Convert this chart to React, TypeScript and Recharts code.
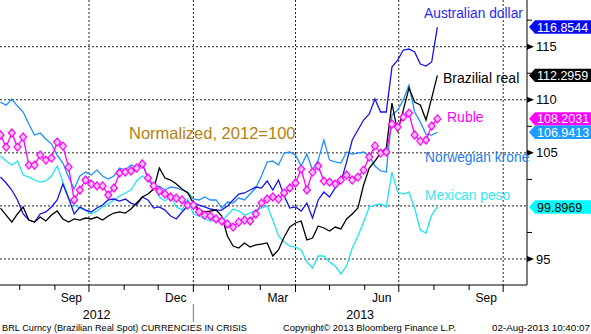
import { CartesianGrid, Line, LineChart, XAxis, YAxis } from "recharts";

// x values are days counted from 1 Jul 2012, one sample every 5 days
const START_DAY = 14;
const STEP_DAYS = 5;

const mxnValues = [
  104.7, 104.23, 103.85, 104.23, 102.91, 102.72, 102.44, 102.25, 102.35, 102.82,
  103.76, 102.25, 100.74, 100.08, 99.8, 99.61, 99.24, 99.52, 99.9, 100.18,
  100.56, 100.93, 101.22, 101.5, 102.35, 102.82, 102.44, 101.87, 100.84, 100.46,
  100.93, 99.9, 99.61, 100.65, 99.24, 99.05, 98.77, 98.58, 98.67, 98.48,
  99.14, 99.71, 99.52, 99.14, 99.33, 99.61, 99.8, 99.99, 98.67, 97.17,
  96.6, 96.22, 96.13, 95.85, 94.72, 94.15, 95.28, 95.28, 94.72, 94.34,
  93.59, 94.34, 96.03, 97.17, 98.48, 99.9, 100.08, 100.18, 99.9, 103.19,
  101.31, 101.12, 101.31, 99.8, 97.73, 97.45, 99.14, 99.9,
];

const nokValues = [
  109.78, 109.5, 110.07, 109.41, 108.84, 107.71, 106.68, 106.87, 106.3, 105.83,
  104.79, 104.04, 102.72, 101.59, 102.82, 103.19, 102.91, 103.38, 102.82, 102.53,
  102.82, 103.57, 103.38, 103.85, 103.66, 104.04, 102.63, 101.78, 101.87, 101.5,
  101.78, 101.69, 101.5, 101.31, 100.65, 100.56, 100.84, 100.56, 100.56, 99.8,
  100.37, 100.27, 100.74, 100.56, 101.12, 101.69, 102.82, 104.14, 104.23, 103.85,
  104.98, 105.08, 104.79, 103.75, 104.89, 103.38, 104.32, 106.21, 104.32, 104.14,
  104.04, 105.08, 104.89, 104.98, 105.08, 104.7, 103.76, 103.29, 103.19, 108.56,
  109.03, 109.98, 111.39, 108.85, 107.9, 106.77, 106.68, 106.94,
];

const audValues = [
  102.72, 102.16, 101.5, 100.56, 99.24, 98.67, 98.48, 99.24, 99.43, 99.9,
  100.56, 102.06, 100.74, 99.24, 99.9, 99.61, 99.43, 99.8, 100.08, 100.56,
  100.65, 100.46, 100.65, 100.27, 100.08, 100.84, 100.56, 99.8, 99.9, 99.61,
  99.05, 98.77, 99.43, 99.99, 100.27, 100.08, 99.9, 99.71, 99.61, 99.61,
  99.99, 100.56, 101.12, 101.22, 101.5, 101.78, 101.68, 102.35, 101.5, 102.44,
  100.93, 99.8, 99.9, 99.52, 100.27, 98.86, 100.56, 101.31, 100.84, 101.69,
  102.25, 104.13, 106.21, 107.15, 108.09, 108.66, 110.07, 108.85, 108.85, 113.08,
  113.74, 114.69, 114.78, 114.5, 113.37, 113.18, 113.56, 116.85,
];

const brlValues = [
  99.8, 99.14, 98.48, 99.24, 99.9, 98.67, 98.48, 98.95, 98.58, 99.14,
  99.52, 98.77, 98.48, 98.77, 98.67, 98.86, 98.77, 98.95, 98.67, 99.05,
  99.33, 99.43, 99.33, 99.71, 100.27, 100.84, 101.12, 101.59, 103.57, 102.63,
  102.44, 102.06, 101.59, 101.22, 100.27, 99.61, 99.43, 99.52, 99.61, 99.05,
  97.17, 96.22, 96.03, 96.51, 96.13, 96.32, 96.41, 96.51, 95.28, 95.85,
  97.07, 98.01, 98.39, 98.58, 96.79, 96.97, 98.11, 97.92, 97.64, 98.01,
  97.83, 98.77, 99.24, 99.8, 101.97, 103.57, 104.23, 104.98, 105.45, 109.69,
  106.96, 109.03, 111.11, 109.79, 109.51, 108.09, 110.16, 112.3,
];

const rubValues = [
  106.68, 105.54, 106.87, 105.54, 106.49, 103.85, 103.85, 104.79, 104.32, 104.51,
  106.02, 105.64, 103.66, 100.56, 101.5, 102.44, 102.06, 101.88, 101.88, 101.03,
  101.69, 103.1, 103.19, 103.29, 103.57, 103.95, 102.63, 101.88, 101.4, 101.12,
  100.84, 100.74, 100.56, 100.08, 100.08, 99.43, 99.14, 99.05, 98.77, 98.58,
  98.3, 98.01, 98.48, 98.67, 98.58, 99.24, 100.27, 100.65, 100.84, 100.65,
  101.22, 101.69, 102.16, 103.47, 101.5, 103.19, 103.76, 102.34, 102.25, 102.06,
  102.44, 102.91, 102.44, 102.72, 103.38, 104.6, 105.65, 104.98, 105.08, 107.71,
  107.43, 108.37, 108.75, 106.68, 106.11, 106.21, 107.53, 108.2,
];

// badges on the right axis, drawn in this order
const badgeValues = [116.8544, 112.2959, 108.2031, 106.9413, 99.8969];
const badgeFills = ["#0a0af0", "#000000", "#ff00ff", "#1e9bff", "#00ffff"];
const badgeText = ["#ffffff", "#ffffff", "#ffffff", "#ffffff", "#000000"];

const majorTicks = [95, 105, 110, 115];
const minorTicks = [97.5, 102.5, 107.5, 112.5, 117.5];
const gridY = [95, 100, 105, 110, 115];

const monthStarts = [31, 62, 92, 123, 153, 184, 215, 243, 274, 304, 335, 365, 396, 427, 457];
const quarterStarts = [92, 184, 274, 365, 457];
const monthLabelDays = [76.5, 168.5, 258.5, 350, 442];
const monthLabelNames = ["Sep", "Dec", "Mar", "Jun", "Sep"];
const yearNames = ["2012", "2013"];
const YEAR_SPLIT = 184;
const X_DOMAIN: [number, number] = [13.6, 478];
const Y_DOMAIN: [number, number] = [92.55, 119.4];

const yearCenters = [(X_DOMAIN[0] + YEAR_SPLIT) / 2, (YEAR_SPLIT + X_DOMAIN[1]) / 2];

const data = audValues.map((_, i) => ({
  d: START_DAY + i * STEP_DAYS,
  mxn: mxnValues[i],
  nok: nokValues[i],
  aud: audValues[i],
  brl: brlValues[i],
  rub: rubValues[i],
}));

const FONT = '"Liberation Sans", Arial, sans-serif';

const xTicks = [...monthStarts, ...monthLabelDays, ...yearCenters];
const yTicks = [...majorTicks, ...minorTicks, ...badgeValues];

function renderXTick(props: any) {
  const { x, y, payload } = props;
  const v = payload.value;
  const mi = monthStarts.indexOf(v);
  if (mi >= 0) {
    const long = quarterStarts.includes(v);
    return (
      <g key={`xt-${v}`}>
        <line x1={x} x2={x} y1={y} y2={y + (long ? 7 : 5)} stroke="#000" />
        {v === YEAR_SPLIT && <line x1={x} x2={x} y1={y + 19} y2={y + 37} stroke="#777" />}
      </g>
    );
  }
  const li = monthLabelDays.indexOf(v);
  if (li >= 0) {
    return (
      <text key={`xl-${v}`} x={x} y={y + 16.5} textAnchor="middle" fontSize={12} fontFamily={FONT} fill="#000">
        {monthLabelNames[li]}
      </text>
    );
  }
  const yi = yearCenters.indexOf(v);
  return (
    <text key={`xy-${v}`} x={x} y={y + 34} textAnchor="middle" fontSize={12.5} fontFamily={FONT} fill="#000">
      {yearNames[yi]}
    </text>
  );
}

function renderYTick(props: any) {
  const { x, y, payload } = props;
  const v = payload.value;
  const bi = badgeValues.indexOf(v);
  if (bi >= 0) {
    return (
      <g key={`yb-${v}`}>
        <path
          d={`M${x + 2},${y} L${x + 8},${y - 6.7} L591,${y - 6.7} L591,${y + 6.7} L${x + 8},${y + 6.7} Z`}
          fill={badgeFills[bi]}
        />
        <text x={x + 10} y={y + 4.5} fontSize={12.5} fontFamily={FONT} fill={badgeText[bi]}>
          {v.toFixed(4)}
        </text>
      </g>
    );
  }
  if (majorTicks.includes(v)) {
    return (
      <g key={`ym-${v}`}>
        <path d={`M${x},${y - 3} L${x + 7},${y} L${x},${y + 3} Z`} fill="#000" />
        <text x={x + 9} y={y + 4.6} fontSize={13} fontFamily={FONT} fill="#000">
          {v}
        </text>
      </g>
    );
  }
  return <line key={`yn-${v}`} x1={x} x2={x + 5} y1={y} y2={y} stroke="#000" />;
}

function renderDiamond(props: any) {
  const { cx, cy, index } = props;
  return (
    <path
      key={`dm-${index}`}
      d={`M${cx},${cy - 4} L${cx + 3.5},${cy} L${cx},${cy + 4} L${cx - 3.5},${cy} Z`}
      fill="#ffc4ff"
      stroke="#ff00ff"
      strokeWidth={1.2}
    />
  );
}

export default function App() {
  return (
    <div style={{ position: "relative", width: 591, height: 334, background: "#fff" }}>
      <style>{`body{margin:0}`}</style>
      <LineChart width={591} height={334} data={data} margin={{ top: 0, right: 0, bottom: 0, left: 0 }}>
        <CartesianGrid
          stroke="#222"
          strokeDasharray="2 2"
          horizontalValues={gridY}
          verticalValues={quarterStarts}
        />
        <XAxis
          type="number"
          dataKey="d"
          domain={X_DOMAIN}
          allowDataOverflow
          ticks={xTicks}
          interval={0}
          tick={renderXTick}
          tickLine={false}
          tickSize={0}
          tickMargin={0}
          height={49}
          axisLine={{ stroke: "#000" }}
        />
        <YAxis
          orientation="right"
          type="number"
          domain={Y_DOMAIN}
          allowDataOverflow
          ticks={yTicks}
          interval={0}
          tick={renderYTick}
          tickLine={false}
          tickSize={0}
          tickMargin={0}
          width={64}
          axisLine={{ stroke: "#000" }}
        />
        <Line type="linear" dataKey="mxn" stroke="#1ee4f6" strokeWidth={1.3} dot={false} activeDot={false} isAnimationActive={false} />
        <Line type="linear" dataKey="nok" stroke="#1e90ff" strokeWidth={1.3} dot={false} activeDot={false} isAnimationActive={false} />
        <Line type="linear" dataKey="aud" stroke="#1414e8" strokeWidth={1.3} dot={false} activeDot={false} isAnimationActive={false} />
        <Line type="linear" dataKey="brl" stroke="#000000" strokeWidth={1.3} dot={false} activeDot={false} isAnimationActive={false} />
        <Line
          type="linear"
          dataKey="rub"
          stroke="#ff00ff"
          strokeWidth={1.3}
          dot={renderDiamond}
          activeDot={false}
          isAnimationActive={false}
        />
      </LineChart>
      <svg
        width={591}
        height={334}
        style={{ position: "absolute", left: 0, top: 0, pointerEvents: "none" }}
        fontFamily={FONT}
      >
        <text x={129} y={139} fontSize={16.5} fill="#b5800f">Normalized, 2012=100</text>
        <text x={424} y={18} fontSize={13.8} fill="#2a2af0">Australian dollar</text>
        <text x={443} y={83} fontSize={14} fill="#000">Brazilial real</text>
        <text x={447} y={122} fontSize={14} fill="#ff00ff">Ruble</text>
        <text x={425} y={162} fontSize={13.8} fill="#1e7cf0">Norwegian krone</text>
        <text x={425} y={200} fontSize={13.8} fill="#38e6f2">Mexican peso</text>
        <text x={2} y={331} fontSize={9.5} textLength={245} lengthAdjust="spacingAndGlyphs" fill="#000">
          BRL Curncy (Brazilian Real Spot) CURRENCIES IN CRISIS
        </text>
        <text x={283} y={331} fontSize={9.5} textLength={173} lengthAdjust="spacingAndGlyphs" fill="#000">
          Copyright© 2013 Bloomberg Finance L.P.
        </text>
        <text x={492} y={331} fontSize={9.5} textLength={98} lengthAdjust="spacingAndGlyphs" fill="#000">
          02-Aug-2013 10:40:07
        </text>
      </svg>
    </div>
  );
}
